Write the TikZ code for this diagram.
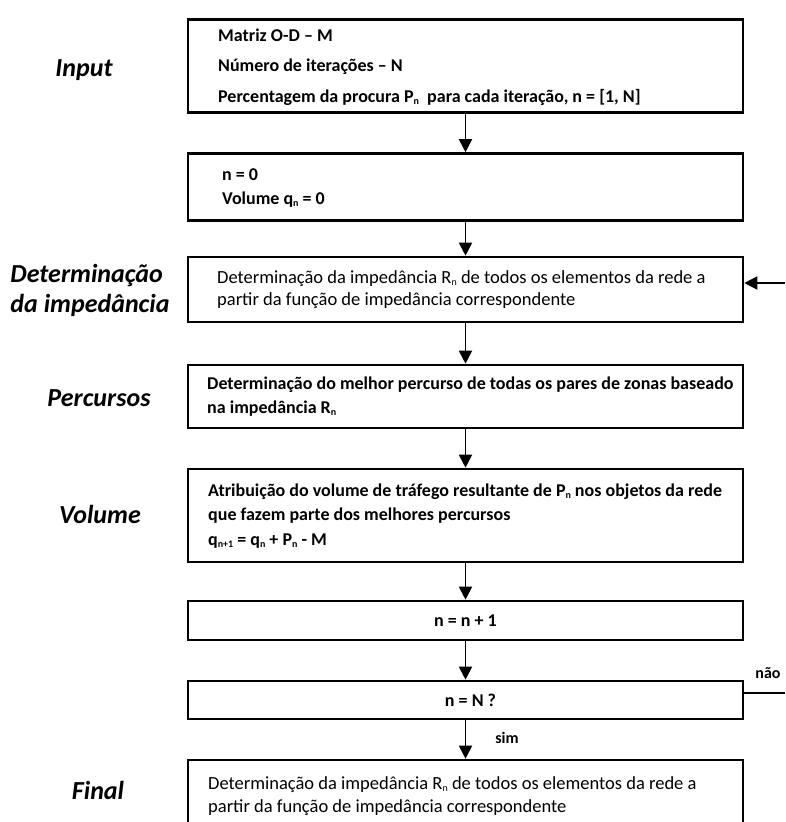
\documentclass[tikz,border=0pt]{standalone}
\usepackage{fontspec}
\setmainfont{Carlito}
\usetikzlibrary{arrows.meta,calc}

% small index set below the baseline
\newcommand\lowidx[1]{\raisebox{-2.5pt}{\fontsize{10}{10}\selectfont #1}}

\tikzset{
  x=1pt, y=-1pt,
  procbox/.style={draw, line width=2.6pt, rectangle, minimum width=555pt,
    inner sep=0pt, anchor=center},
  boxtext/.style={anchor=west, inner sep=0pt, align=left},
  boldtext/.style={boxtext, font=\fontsize{18}{#1}\selectfont\bfseries},
  plaintext/.style={boxtext, font=\fontsize{18.5}{#1}\selectfont},
  centertext/.style={font=\fontsize{18}{20}\selectfont\bfseries},
  steplabel/.style={font=\fontsize{26}{30}\selectfont\bfseries\itshape, align=left},
  smalllabel/.style={font=\fontsize{16}{18}\selectfont\bfseries},
  flow/.style={line width=1.8pt, -{Triangle[length=13pt, width=13pt]}},
  plainline/.style={line width=1.8pt},
}

\begin{document}
\begin{tikzpicture}
\clip (0,0) rectangle (785,822);
\fill[white] (0,0) rectangle (785,822);

% process boxes
\node[procbox, minimum height=93pt] (b1) at (465.5,66) {};
\node[procbox, minimum height=67pt] (b2) at (465.5,187) {};
\node[procbox, minimum height=65pt] (b3) at (465.5,289.5) {};
\node[procbox, minimum height=63pt] (b4) at (465.5,396.5) {};
\node[procbox, minimum height=93pt] (b5) at (465.5,515.5) {};
\node[procbox, minimum height=39pt] (b6) at (465.5,620.5) {};
\node[procbox, minimum height=38pt] (b7) at (465.5,700) {};
\node[procbox, minimum height=72pt] (b8) at (465.5,796) {};

% box contents
\node[boldtext=30.5] (t1) at (218,67)
  {Matriz O-D – M\\Número de iterações – N\\Percentagem da procura P\lowidx{n}\ \ para cada iteração, n = [1, N]};
\node[boldtext=24] (t2) at (222,188)
  {n = 0\\Volume q\lowidx{n} = 0};
\node[plaintext=22.5] (t3) at (217,289.5)
  {Determinação da impedância R\lowidx{n} de todos os elementos da rede a\\partir da função de impedância correspondente};
\node[boldtext=24] (t4) at (207,396.5)
  {Determinação do melhor percurso de todas os pares de zonas baseado\\na impedância R\lowidx{n}};
\node[boldtext=24.5] (t5) at (208,516)
  {Atribuição do volume de tráfego resultante de P\lowidx{n} nos objetos da rede\\que fazem parte dos melhores percursos\\q\lowidx{n+1} = q\lowidx{n} + P\lowidx{n} - M};
\node[centertext] (t6) at (b6) {n = n + 1};
\node[centertext] (t7) at ($(b7)+(5,0)$) {n = N ?};
\node[plaintext=23] (t8) at (208,796)
  {Determinação da impedância R\lowidx{n} de todos os elementos da rede a\\partir da função de impedância correspondente};

% stage labels
\node[steplabel] (lInput) at (84,70) {Input};
\node[steplabel] (lImp) at (90,290) {Determinação\\da impedância};
\node[steplabel] (lPerc) at (99,398) {Percursos};
\node[steplabel] (lVol) at (100,514) {Volume};
\node[steplabel] (lFinal) at (98,790) {Final};

% main flow
\draw[flow] (b1) -- (b2);
\draw[flow] (b2) -- (b3);
\draw[flow] (b3) -- (b4);
\draw[flow] (b4) -- (b5);
\draw[flow] (b5) -- (b6);
\draw[flow] (b6) -- (b7);
\draw[flow] (b7) -- (b8);
\node[smalllabel] (lsim) at (507,738) {sim};

% loop back
\coordinate (fbIn) at (785,283);
\coordinate (fbOut) at (785,693);
\draw[flow] (fbIn) -- (fbIn -| b3.east);
\draw[plainline] (fbOut -| b7.east) -- (fbOut);
\node[smalllabel] (lnao) at (768,673) {não};
\end{tikzpicture}
\end{document}
